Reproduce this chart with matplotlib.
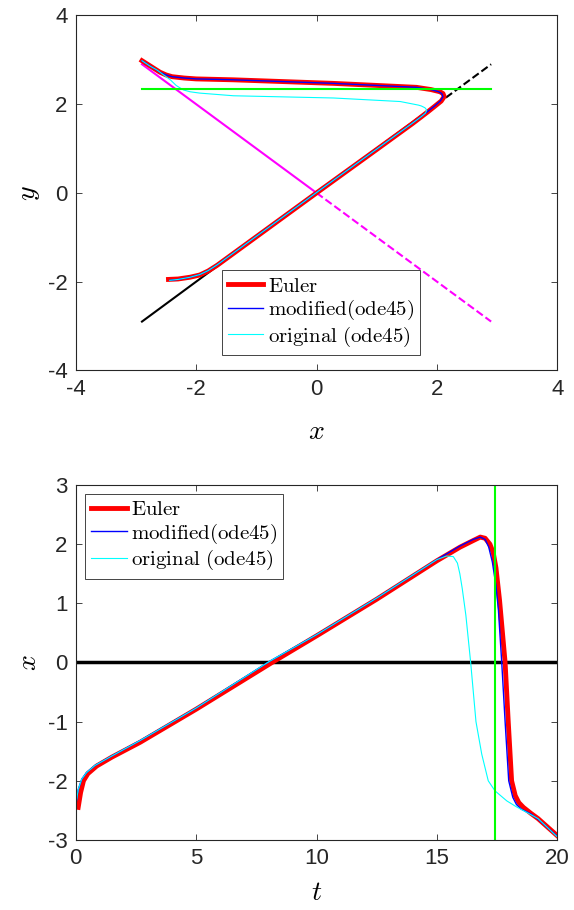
import numpy as np
from matplotlib import pyplot as plt

plt.rcParams['font.family'] = ['Liberation Sans', 'DejaVu Sans']
plt.rcParams['mathtext.fontset'] = 'cm'
plt.rcParams['axes.unicode_minus'] = False
plt.rcParams['xtick.direction'] = 'in'
plt.rcParams['ytick.direction'] = 'in'

# phase plane (x, y)
px_euler = [-2.46, -2.3, -2.1, -1.94, -1.8, -1.65, 0.0, 1.0, 1.6, 1.85, 1.97, 2.07, 2.12, 2.1, 2.05,
            1.9, 1.66, 0.27, -1.39, -2.0, -2.2, -2.4, -2.5, -2.6, -2.75, -2.9]
py_euler = [-1.95, -1.94, -1.9, -1.85, -1.76, -1.63, 0.0, 0.98, 1.57, 1.83, 1.96, 2.07, 2.17, 2.24, 2.28,
            2.33, 2.38, 2.47, 2.55, 2.57, 2.59, 2.62, 2.66, 2.72, 2.85, 2.98]
px_mod = [-2.44, -2.3, -2.1, -1.94, -1.8, -1.65, 0.0, 1.0, 1.6, 1.85, 1.97, 2.06, 2.1, 2.08, 2.03,
          1.9, 1.66, 0.27, -1.39, -2.0, -2.2, -2.4, -2.5, -2.6, -2.75, -2.9]
py_mod = [-1.97, -1.95, -1.9, -1.84, -1.75, -1.62, 0.01, 0.99, 1.58, 1.84, 1.97, 2.08, 2.17, 2.24, 2.28,
          2.33, 2.38, 2.47, 2.55, 2.57, 2.59, 2.62, 2.66, 2.72, 2.85, 2.98]
px_orig = [-2.44, -2.3, -2.1, -1.94, -1.8, -1.65, 0.0, 1.0, 1.6, 1.74, 1.81, 1.83, 1.8, 1.74, 1.69,
           1.39, 0.28, -1.38, -1.94, -2.1, -2.21, -2.33, -2.43, -2.55, -2.65, -2.78, -2.9]
py_orig = [-1.97, -1.95, -1.9, -1.84, -1.75, -1.62, 0.01, 0.99, 1.58, 1.72, 1.8, 1.87, 1.92, 1.96, 1.98,
           2.06, 2.14, 2.19, 2.25, 2.28, 2.32, 2.42, 2.55, 2.67, 2.77, 2.87, 2.98]

# nullclines
nc_black_solid = [-2.9, 2.0]
nc_black_dash = [2.0, 2.9]
nc_mag_solid = [-2.9, 0.0]
nc_mag_dash = [0.0, 2.9]
green_x = [-2.9, 2.9]
green_y = 2.34

# time series x(t)
t_euler = [0.1, 0.2, 0.32, 0.5, 0.87, 1.5, 2.67, 5.0, 8.15, 10.0, 12.5, 15.0, 15.96, 16.5, 16.8, 17.0,
           17.2, 17.34, 17.45, 17.6, 17.83, 17.96, 18.1, 18.25, 18.4, 18.59, 18.9, 19.2, 20.0]
x_euler = [-2.45, -2.2, -2.0, -1.88, -1.75, -1.6, -1.35, -0.79, 0.0, 0.45, 1.07, 1.72, 1.95, 2.06, 2.12, 2.1,
           2.0, 1.85, 1.6, 1.05, 0.0, -1.0, -2.0, -2.25, -2.37, -2.45, -2.55, -2.64, -2.93]
t_mod = [0.0, 0.1, 0.25, 0.45, 0.8, 1.5, 2.67, 5.0, 8.05, 10.0, 12.5, 15.0, 15.96, 16.5, 16.8, 17.0,
         17.15, 17.3, 17.45, 17.55, 17.69, 17.83, 17.98, 18.15, 18.3, 18.5, 18.9, 19.2, 20.0]
x_mod = [-2.42, -2.15, -1.97, -1.86, -1.74, -1.58, -1.32, -0.77, 0.02, 0.47, 1.09, 1.74, 1.97, 2.08, 2.12, 2.08,
         1.95, 1.7, 1.3, 0.9, 0.0, -1.0, -2.0, -2.28, -2.4, -2.48, -2.56, -2.65, -2.94]
t_orig = [0.0, 0.1, 0.25, 0.45, 0.8, 1.5, 2.67, 5.0, 8.05, 10.0, 12.5, 15.0, 15.4, 15.68, 15.85, 15.95,
          16.05, 16.2, 16.4, 16.62, 16.86, 17.13, 17.41, 17.9, 18.3, 18.8, 19.2, 20.0]
x_orig = [-2.42, -2.15, -1.97, -1.86, -1.74, -1.58, -1.32, -0.77, 0.02, 0.47, 1.09, 1.74, 1.8, 1.79, 1.68, 1.5,
          1.25, 0.8, 0.0, -1.0, -1.55, -2.0, -2.17, -2.34, -2.44, -2.55, -2.64, -2.95]
t_green = 17.4

labels = [r'$\mathrm{Euler}$', r'$\mathrm{modified(ode45)}$', r'$\mathrm{original\ (ode45)}$']


def style(ax):
    for s in ax.spines.values():
        s.set_color('0.15')
        s.set_linewidth(0.8)
    ax.tick_params(top=True, right=True, length=4, width=0.6, color='0.15',
                   labelsize=16, labelcolor='0.15', pad=6)


def add_legend(ax, anchor):
    leg = ax.legend(loc='upper left', bbox_to_anchor=anchor, borderaxespad=0, fontsize=15,
                    fancybox=False, framealpha=1, edgecolor='0.15', handlelength=1.7,
                    handletextpad=0.2, labelspacing=0.12, borderpad=0.3)
    leg.get_frame().set_linewidth(0.6)


fig = plt.figure(figsize=(5.74, 9.1), dpi=100)

# Phase plane
ax1 = fig.add_axes([0.132, 0.593, 0.839, 0.390])
ax1.plot(nc_black_solid, nc_black_solid, color='black', lw=1.5)
ax1.plot(nc_black_dash, nc_black_dash, color='black', lw=1.5, ls='--')
ax1.plot(nc_mag_solid, [-v for v in nc_mag_solid], color='magenta', lw=1.5)
ax1.plot(nc_mag_dash, [-v for v in nc_mag_dash], color='magenta', lw=1.5, ls='--')
ax1.plot(px_euler, py_euler, color='red', lw=3.5, label=labels[0])
ax1.plot(px_mod, py_mod, color='blue', lw=1, label=labels[1])
ax1.plot(px_orig, py_orig, color='cyan', lw=0.8, label=labels[2])
ax1.plot(green_x, [green_y, green_y], color='lime', lw=1.5)
ax1.set_xlim(-4, 4)
ax1.set_ylim(-4, 4)
ax1.set_xticks([-4, -2, 0, 2, 4])
ax1.set_yticks([-4, -2, 0, 2, 4])
ax1.set_xlabel(r'$x$', fontsize=20, labelpad=14)
ax1.set_ylabel(r'$y$', fontsize=20, labelpad=4)
style(ax1)
add_legend(ax1, (0.303, 0.282))

# Time series
ax2 = fig.add_axes([0.132, 0.077, 0.839, 0.390])
ax2.axhline(0, color='black', lw=2.5)
ax2.plot(t_euler, x_euler, color='red', lw=3.5, label=labels[0])
ax2.plot(t_mod, x_mod, color='blue', lw=1, label=labels[1])
ax2.plot(t_orig, x_orig, color='cyan', lw=0.8, label=labels[2])
ax2.axvline(t_green, color='lime', lw=1.5)
ax2.set_xlim(0, 20)
ax2.set_ylim(-3, 3)
ax2.set_xticks([0, 5, 10, 15, 20])
ax2.set_yticks([-3, -2, -1, 0, 1, 2, 3])
ax2.set_xlabel(r'$t$', fontsize=20, labelpad=8)
ax2.set_ylabel(r'$x$', fontsize=20, labelpad=4)
style(ax2)
add_legend(ax2, (0.019, 0.975))

plt.savefig('out.png', dpi=100)
